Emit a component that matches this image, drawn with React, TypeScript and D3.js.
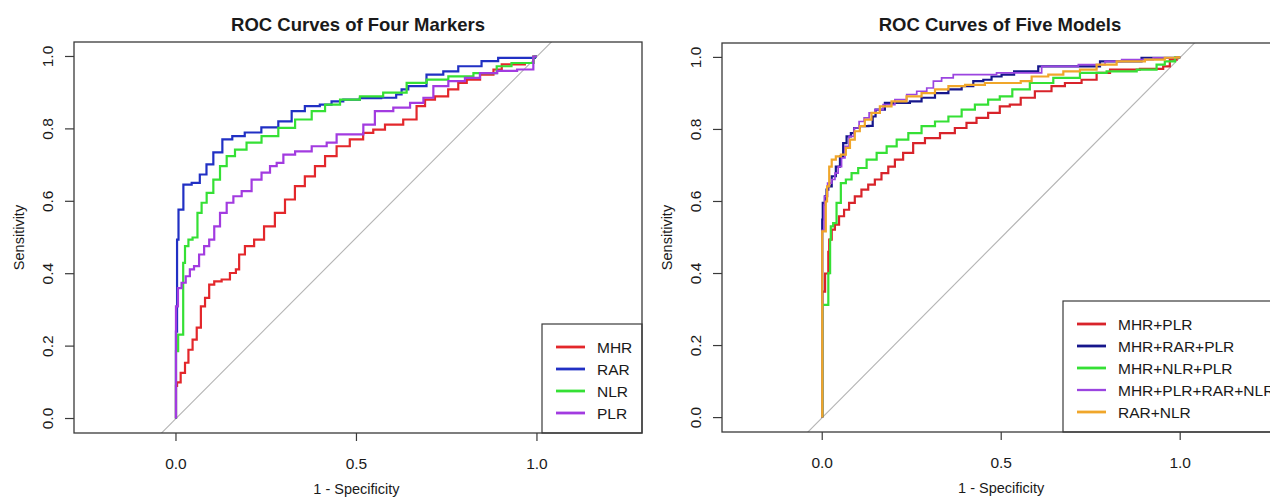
import { useEffect, useRef } from 'react'
import * as d3 from 'd3'

type Pt = [number, number]

// ROC points: [1 - specificity, sensitivity]
const MHR: Pt[] = [
  [0, 0], [0, 0.09], [0.006, 0.1], [0.02, 0.126], [0.03, 0.154], [0.039, 0.19], [0.053, 0.218],
  [0.062, 0.251], [0.076, 0.31], [0.085, 0.333], [0.099, 0.37], [0.113, 0.379], [0.14, 0.384],
  [0.159, 0.402], [0.173, 0.412], [0.177, 0.453], [0.205, 0.476], [0.228, 0.494], [0.26, 0.531],
  [0.288, 0.568], [0.316, 0.605], [0.343, 0.642], [0.371, 0.669], [0.399, 0.697], [0.427, 0.725],
  [0.463, 0.752], [0.5, 0.771], [0.537, 0.789], [0.556, 0.798], [0.602, 0.812], [0.657, 0.826],
  [0.676, 0.863], [0.704, 0.881], [0.731, 0.89], [0.777, 0.909], [0.787, 0.927], [0.824, 0.936],
  [0.861, 0.95], [0.898, 0.964], [0.907, 0.978], [0.953, 0.978], [0.98, 0.982], [1, 1],
]
const RAR: Pt[] = [
  [0, 0], [0, 0.24], [0.003, 0.24], [0.003, 0.494], [0.011, 0.577], [0.03, 0.646], [0.057, 0.651],
  [0.075, 0.674], [0.094, 0.702], [0.113, 0.735], [0.144, 0.771], [0.168, 0.78], [0.213, 0.79],
  [0.26, 0.804], [0.307, 0.821], [0.334, 0.849], [0.38, 0.863], [0.417, 0.867], [0.445, 0.876],
  [0.482, 0.881], [0.537, 0.885], [0.6, 0.886], [0.62, 0.895], [0.63, 0.909], [0.657, 0.918],
  [0.731, 0.95], [0.75, 0.959], [0.814, 0.973], [0.879, 0.987], [0.906, 0.996], [0.989, 0.996], [1, 1],
]
const NLR: Pt[] = [
  [0, 0], [0, 0.186], [0.006, 0.186], [0.006, 0.232], [0.02, 0.232], [0.02, 0.43], [0.03, 0.476],
  [0.039, 0.494], [0.053, 0.5], [0.066, 0.568], [0.076, 0.596], [0.094, 0.623], [0.113, 0.66],
  [0.131, 0.697], [0.15, 0.725], [0.177, 0.743], [0.214, 0.762], [0.26, 0.78], [0.307, 0.803],
  [0.353, 0.826], [0.399, 0.849], [0.427, 0.867], [0.482, 0.881], [0.537, 0.89], [0.611, 0.9],
  [0.667, 0.927], [0.722, 0.936], [0.787, 0.945], [0.861, 0.954], [0.916, 0.973], [0.943, 0.982],
  [0.981, 0.982], [1, 1],
]
const PLR: Pt[] = [
  [0, 0], [0, 0.31], [0.011, 0.36], [0.02, 0.375], [0.034, 0.393], [0.043, 0.412], [0.057, 0.421],
  [0.071, 0.453], [0.085, 0.476], [0.099, 0.494], [0.113, 0.531], [0.131, 0.568], [0.15, 0.596],
  [0.168, 0.614], [0.196, 0.628], [0.223, 0.66], [0.251, 0.679], [0.27, 0.697], [0.288, 0.706],
  [0.307, 0.729], [0.353, 0.738], [0.399, 0.752], [0.436, 0.762], [0.454, 0.785], [0.51, 0.785],
  [0.528, 0.812], [0.574, 0.849], [0.63, 0.859], [0.667, 0.872], [0.704, 0.886], [0.722, 0.918],
  [0.787, 0.932], [0.814, 0.941], [0.87, 0.954], [0.91, 0.96], [0.98, 0.964], [1, 1],
]

const MHR_PLR: Pt[] = [
  [0, 0], [0, 0.35], [0.008, 0.35], [0.008, 0.4], [0.017, 0.4], [0.017, 0.46], [0.022, 0.494],
  [0.031, 0.522], [0.04, 0.536], [0.054, 0.559], [0.068, 0.577], [0.082, 0.596], [0.1, 0.614],
  [0.119, 0.633], [0.138, 0.647], [0.156, 0.661], [0.175, 0.679], [0.194, 0.697], [0.212, 0.716],
  [0.24, 0.735], [0.268, 0.762], [0.306, 0.776], [0.352, 0.79], [0.389, 0.804], [0.417, 0.818],
  [0.445, 0.832], [0.482, 0.846], [0.51, 0.864], [0.538, 0.869], [0.571, 0.888], [0.617, 0.906],
  [0.664, 0.92], [0.692, 0.929], [0.757, 0.938], [0.776, 0.957], [0.832, 0.966], [0.943, 0.968],
  [0.962, 0.975], [0.98, 0.994], [1, 1],
]
const MHR_RAR_PLR: Pt[] = [
  [0, 0], [0, 0.55], [0.003, 0.596], [0.012, 0.614], [0.012, 0.633], [0.022, 0.642], [0.031, 0.67],
  [0.045, 0.697], [0.054, 0.725], [0.063, 0.762], [0.073, 0.781], [0.087, 0.79], [0.091, 0.804],
  [0.119, 0.809], [0.14, 0.81], [0.142, 0.836], [0.156, 0.855], [0.194, 0.874], [0.231, 0.874],
  [0.259, 0.878], [0.296, 0.888], [0.334, 0.901], [0.371, 0.911], [0.408, 0.92], [0.436, 0.934],
  [0.464, 0.938], [0.482, 0.947], [0.52, 0.952], [0.552, 0.961], [0.655, 0.975], [0.748, 0.975],
  [0.804, 0.989], [0.98, 0.999], [1, 1],
]
const MHR_NLR_PLR: Pt[] = [
  [0, 0], [0, 0.313], [0.017, 0.313], [0.017, 0.401], [0.022, 0.401], [0.022, 0.494], [0.026, 0.531],
  [0.035, 0.54], [0.045, 0.596], [0.059, 0.651], [0.073, 0.661], [0.091, 0.679], [0.11, 0.693],
  [0.138, 0.716], [0.166, 0.735], [0.194, 0.753], [0.222, 0.772], [0.259, 0.79], [0.296, 0.809],
  [0.334, 0.822], [0.371, 0.836], [0.408, 0.855], [0.445, 0.869], [0.482, 0.883], [0.51, 0.892],
  [0.552, 0.911], [0.608, 0.929], [0.683, 0.943], [0.757, 0.957], [0.832, 0.961], [0.925, 0.966],
  [0.943, 0.98], [0.971, 0.989], [1, 1],
]
const MHR_PLR_RAR_NLR: Pt[] = [
  [0, 0], [0, 0.52], [0.005, 0.52], [0.005, 0.59], [0.008, 0.614], [0.022, 0.651], [0.031, 0.661],
  [0.04, 0.679], [0.049, 0.697], [0.059, 0.721], [0.068, 0.753], [0.082, 0.781], [0.096, 0.804],
  [0.11, 0.822], [0.124, 0.832], [0.138, 0.846], [0.156, 0.855], [0.184, 0.869], [0.222, 0.883],
  [0.25, 0.897], [0.278, 0.906], [0.306, 0.915], [0.315, 0.934], [0.352, 0.943], [0.38, 0.952],
  [0.464, 0.952], [0.51, 0.957], [0.571, 0.957], [0.655, 0.975], [0.776, 0.98], [0.804, 0.989],
  [0.869, 0.994], [0.98, 0.999], [1, 1],
]
const RAR_NLR: Pt[] = [
  [0, 0], [0, 0.517], [0.01, 0.517], [0.01, 0.6], [0.017, 0.642], [0.022, 0.697], [0.031, 0.716],
  [0.045, 0.725], [0.059, 0.73], [0.073, 0.749], [0.082, 0.772], [0.1, 0.795], [0.11, 0.809],
  [0.128, 0.827], [0.147, 0.846], [0.175, 0.864], [0.212, 0.878], [0.259, 0.892], [0.296, 0.901],
  [0.334, 0.911], [0.371, 0.92], [0.427, 0.924], [0.482, 0.929], [0.538, 0.929], [0.571, 0.934],
  [0.599, 0.947], [0.664, 0.952], [0.683, 0.961], [0.757, 0.966], [0.776, 0.98], [0.869, 0.989],
  [0.934, 0.994], [0.98, 0.999], [1, 1],
]

const markerNames = ['MHR', 'RAR', 'NLR', 'PLR']
const markerData = [MHR, RAR, NLR, PLR]
const markerColors = ['#e3272b', '#2130c4', '#35e035', '#a23be0']

const modelNames = ['MHR+PLR', 'MHR+RAR+PLR', 'MHR+NLR+PLR', 'MHR+PLR+RAR+NLR', 'RAR+NLR']
const modelData = [MHR_PLR, MHR_RAR_PLR, MHR_NLR_PLR, MHR_PLR_RAR_NLR, RAR_NLR]
const modelColors = ['#d8232a', '#16168c', '#35e035', '#9b45e0', '#f0a62a']

const xTicks = [0, 0.5, 1]
const yTicks = [0, 0.2, 0.4, 0.6, 0.8, 1]

const FONT = '"Liberation Sans", Arial, sans-serif'

function drawPanel(root, p) {
  const x = d3.scaleLinear().domain(p.xDomain).range([p.left, p.right])
  const y = d3.scaleLinear().domain([-0.04, 1.04]).range([p.bottom, p.top])
  const g = root.append('g')

  const clipId = `clip-${p.id}`
  g.append('clipPath')
    .attr('id', clipId)
    .append('rect')
    .attr('x', p.left)
    .attr('y', p.top)
    .attr('width', p.right - p.left)
    .attr('height', p.bottom - p.top)

  // title
  g.append('text')
    .attr('x', (p.left + p.right) / 2 + p.titleShift)
    .attr('y', 31)
    .attr('text-anchor', 'middle')
    .attr('font-weight', 'bold')
    .attr('font-size', 18.5)
    .attr('fill', '#1a1a1a')
    .text(p.title)

  const plot = g.append('g').attr('clip-path', `url(#${clipId})`)

  // reference diagonal
  plot
    .append('line')
    .attr('x1', x(-0.3))
    .attr('y1', y(-0.3))
    .attr('x2', x(1.3))
    .attr('y2', y(1.3))
    .attr('stroke', '#b4b4b4')
    .attr('stroke-width', 1.1)

  const line = d3
    .line<Pt>()
    .x((d) => x(d[0]))
    .y((d) => y(d[1]))
    .curve(d3.curveStep)

  p.series.forEach((s, i) => {
    plot
      .append('path')
      .attr('d', line(s))
      .attr('fill', 'none')
      .attr('stroke', p.colors[i])
      .attr('stroke-width', p.widths[i])
  })

  // legend
  const lg = g.append('g')
  lg.append('rect')
    .attr('x', p.legendX)
    .attr('y', p.legendY)
    .attr('width', p.right - p.legendX)
    .attr('height', p.bottom - p.legendY)
    .attr('fill', 'white')
    .attr('stroke', '#3a3a3a')
    .attr('stroke-width', 1.2)
  p.names.forEach((name, i) => {
    const ry = p.legendY + 23 + i * 22
    lg.append('line')
      .attr('x1', p.legendX + 14)
      .attr('x2', p.legendX + 43)
      .attr('y1', ry)
      .attr('y2', ry)
      .attr('stroke', p.colors[i])
      .attr('stroke-width', p.widths[i] + 0.6)
    lg.append('text')
      .attr('x', p.legendX + 55)
      .attr('y', ry)
      .attr('dy', '0.36em')
      .attr('font-size', 15.5)
      .attr('fill', '#1a1a1a')
      .text(name)
  })

  // box
  g.append('rect')
    .attr('x', p.left)
    .attr('y', p.top)
    .attr('width', p.right - p.left)
    .attr('height', p.bottom - p.top)
    .attr('fill', 'none')
    .attr('stroke', '#3a3a3a')
    .attr('stroke-width', 1.3)

  // x axis
  xTicks.forEach((t) => {
    g.append('line')
      .attr('x1', x(t))
      .attr('x2', x(t))
      .attr('y1', p.bottom)
      .attr('y2', p.bottom + 8)
      .attr('stroke', '#3a3a3a')
      .attr('stroke-width', 1.2)
    g.append('text')
      .attr('x', x(t))
      .attr('y', p.bottom + 36)
      .attr('text-anchor', 'middle')
      .attr('font-size', 15.5)
      .attr('fill', '#1a1a1a')
      .text(d3.format('.1f')(t))
  })
  g.append('text')
    .attr('x', x(0.5))
    .attr('y', p.bottom + 61)
    .attr('text-anchor', 'middle')
    .attr('font-size', 14.5)
    .attr('fill', '#1a1a1a')
    .text('1 - Specificity')

  // y axis
  yTicks.forEach((t) => {
    g.append('line')
      .attr('x1', p.left)
      .attr('x2', p.left - 9)
      .attr('y1', y(t))
      .attr('y2', y(t))
      .attr('stroke', '#3a3a3a')
      .attr('stroke-width', 1.2)
    g.append('text')
      .attr('transform', `translate(${p.left - 27},${y(t)}) rotate(-90)`)
      .attr('text-anchor', 'middle')
      .attr('dy', '0.36em')
      .attr('font-size', 15.5)
      .attr('fill', '#1a1a1a')
      .text(d3.format('.1f')(t))
  })
  g.append('text')
    .attr('transform', `translate(${p.left - 55},${(p.top + p.bottom) / 2}) rotate(-90)`)
    .attr('text-anchor', 'middle')
    .attr('dy', '0.36em')
    .attr('font-size', 14.5)
    .attr('fill', '#1a1a1a')
    .text('Sensitivity')
}

export default function App() {
  const svgRef = useRef(null)

  useEffect(() => {
    if (!svgRef.current) return
    const svg = d3.select(svgRef.current)
    svg.selectAll('*').remove()
    svg.append('rect').attr('width', 1270).attr('height', 498).attr('fill', 'white')

    drawPanel(svg, {
      id: 'left',
      title: 'ROC Curves of Four Markers',
      titleShift: 0,
      left: 74,
      right: 642,
      top: 42,
      bottom: 433,
      xDomain: [-0.2825, 1.291],
      series: markerData,
      names: markerNames,
      colors: markerColors,
      widths: [2.2, 2.2, 2.2, 2.2],
      legendX: 542,
      legendY: 324,
    })

    drawPanel(svg, {
      id: 'right',
      title: 'ROC Curves of Five Models',
      titleShift: -3,
      left: 722,
      right: 1284,
      top: 43,
      bottom: 432,
      xDomain: [-0.28, 1.29],
      series: modelData,
      names: modelNames,
      colors: modelColors,
      widths: [2.2, 2.2, 2.2, 1.7, 2.2],
      legendX: 1063,
      legendY: 301,
    })
  }, [])

  return (
    <svg
      ref={svgRef}
      width={1270}
      height={498}
      style={{ position: 'absolute', left: 0, top: 0, fontFamily: FONT }}
    />
  )
}
